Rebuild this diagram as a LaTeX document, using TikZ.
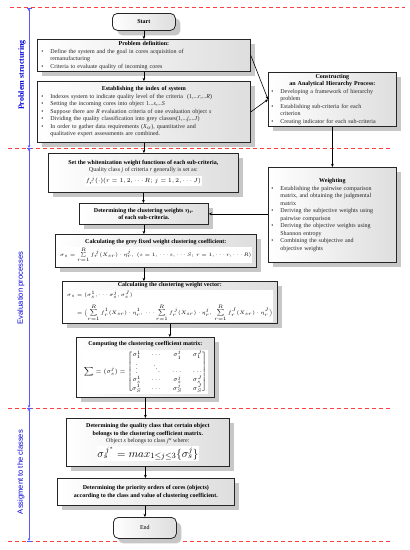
\documentclass[tikz,border=0pt]{standalone}
\usepackage{amsmath}
\usepackage{fontspec}
\setmainfont{Liberation Serif}
\newfontfamily\labsans{Liberation Sans}
\usetikzlibrary{arrows.meta,shadows,calc}
\newcommand\bitem{\par\hangindent=9pt\hangafter=1\noindent\hbox to 9pt{\textbullet\hfil}}
\newcommand\wbox[1]{{\setlength{\fboxsep}{0.8pt}\colorbox{white}{#1}}}
\begin{document}
\begin{tikzpicture}[x=1pt,y=-1pt,
  box/.style={draw=black!85, line width=0.8pt, left color=white, right color=black!13,
    drop shadow={shadow xshift=5pt, shadow yshift=-5pt, fill=black!22, opacity=1},
    inner xsep=4pt, inner ysep=1pt, anchor=north west,
    font=\fontsize{6}{7.5}\selectfont},
  rbox/.style={box, rounded corners=5pt, align=center},
  cbox/.style={box, align=center},
  arr/.style={-{Stealth[length=3.2pt,width=2.8pt]}, line width=0.6pt, black},
  reddash/.style={draw=red!75, line width=0.7pt, dash pattern=on 4pt off 3pt},
  blueax/.style={draw=blue!65, line width=0.6pt},
  bluelab/.style={text=blue!85!black, rotate=90, font=\labsans\fontsize{7.6}{8}\selectfont}
]
\useasboundingbox (0,0) rectangle (410,550);

% section separators
\draw[reddash] (10,7) -- (405,7);
\draw[reddash] (8,148) -- (392,148);
\draw[reddash] (8,408) -- (390,408);
\draw[reddash] (8,541) -- (390,541);

% blue axis
\draw[blueax, {Stealth[length=3pt,width=2.6pt]}-{Stealth[length=3pt,width=2.6pt]}] (29,8) -- (29,148);
\draw[blueax, {Stealth[length=3pt,width=2.6pt]}-{Stealth[length=3pt,width=2.6pt]}] (29,148) -- (29,408);
\draw[blueax, {Stealth[length=3pt,width=2.6pt]}-{Stealth[length=3pt,width=2.6pt]}] (29,408) -- (29,541);
\foreach \yy in {8,148,408,541} \draw[blueax] (26.5,\yy) -- (31.5,\yy);
\node[bluelab, font=\bfseries\fontsize{8}{8}\selectfont] (lab1) at (22,75) {Problem structuring};
\node[bluelab] (lab2) at (21,288) {Evaluation processes};
\node[bluelab] (lab3) at (21,472) {Assigment to the classes};

% main column
\node[rbox, minimum width=63pt, minimum height=17pt] (start) at (112,13) {\bfseries Start};

\node[box, minimum width=213pt, minimum height=32pt, text width=205pt] (pd) at (37,39)
 {\centering\bfseries Problem definition:\par\mdseries\raggedright\color{black!85}
  \bitem Define the system and the goal in cores acquisition of\newline remanufacturing
  \bitem Criteria to evaluate quality of incoming cores\par};

\node[box, minimum width=213pt, minimum height=61pt, text width=205pt] (ei) at (37,81)
 {\centering\bfseries Establishing the index of system\par\mdseries\raggedright\color{black!85}
  \bitem Indexes system to indicate quality level of the criteria~ (1,...\textit{r},...\textit{R})
  \bitem Setting the incoming cores into object 1...\textit{s},...\textit{S}
  \bitem Suppose there are \textit{R} evaluation criteria of one evaluation object \textit{s}
  \bitem Dividing the quality classification into grey classes(1,...\textit{j},...\textit{J})
  \bitem In order to gather data requirements (\textit{X}\textsubscript{\textit{sr}}), quantitative and\newline qualitative expert assessments are combined.\par};

\node[box, minimum width=128pt, minimum height=54pt, text width=122pt, inner xsep=3pt] (ahp) at (268,72)
 {\centering\bfseries Constructing\\ an Analytical Hierarchy Process:\par\mdseries\raggedright\color{black!85}
  \bitem Developing a framework of hierarchy\newline problem
  \bitem Establishing sub-criteria for each\newline criterion
  \bitem Creating indicator for each sub-criteria\par};

\node[box, minimum width=128pt, minimum height=95pt, text width=122pt, inner xsep=3pt] (wt) at (268,167)
 {\centering\bfseries Weighting\par\mdseries\raggedright\color{black!85}
  \bitem Establishing the pairwise comparison\newline matrix, and obtaining the judgmental\newline matrix
  \bitem Deriving the subjective weights using\newline pairwise comparison
  \bitem Deriving the objective weights using\newline Shannon entropy
  \bitem Combining the subjective and\newline objective weights\par};

\node[cbox, minimum width=190pt, minimum height=39pt] (set) at (48,153)
 {\bfseries Set the whitenization weight functions of each sub-criteria,\\
  {\color{black!85}Quality class \textit{j} of criteria \textit{r} generally is set as:}\\[2pt]
  \wbox{$f_r^{\,j}(\cdot)(r=1,2,\cdots R;\,j=1,2,\cdots J)$}};

\node[cbox, minimum width=129pt, minimum height=21pt] (detw) at (79,203)
 {\bfseries Determining the clustering weights $\boldsymbol{\eta_r}$\\ \bfseries of each sub-criteria.};

\node[cbox, minimum width=183pt, minimum height=33pt] (calc) at (55,234)
 {\bfseries Calculating the grey fixed weight clustering coefficient:\\[1pt]
  \wbox{\fontsize{4.6}{5}\selectfont$\sigma_s=\sum\limits_{r=1}^{R} f_r^{\,j}(X_{sr})\cdot\eta_r^j,\;(s=1,\cdots s,\cdots S;\,r=1,\cdots r,\cdots R)$}};

\node[cbox, minimum width=165pt, minimum height=42pt] (vec) at (62,281)
 {\bfseries Calculating the clustering weight vector:\\[1pt]
  \wbox{\fontsize{4.6}{5.5}\selectfont$\begin{aligned}
   \sigma_s&=(\sigma_s^1,\cdots\sigma_s^j,\sigma_s^J)\\[1.5pt]
   &=\Bigl(\sum\limits_{r=1}^{R} f_r^{1}(X_{sr})\cdot\eta_r^1,\,\cdots\sum\limits_{r=1}^{R} f_r^{\,j}(X_{sr})\cdot\eta_r^j,\,\sum\limits_{r=1}^{R} f_r^{J}(X_{sr})\cdot\eta_r^J\Bigr)
  \end{aligned}$}};

\node[cbox, minimum width=138pt, minimum height=60pt] (mat) at (76,337)
 {\bfseries Computing the clustering coefficient matrix:\\[2pt]
  \wbox{\fontsize{6}{7}\selectfont$\displaystyle\sum=(\sigma_s^j)=\begin{bmatrix}
   \sigma_1^1&\cdots&\sigma_1^j&\sigma_1^J\\
   \vdots&\ddots&\cdots&\cdots\\
   \sigma_s^1&\cdots&\sigma_s^j&\sigma_s^J\\
   \sigma_S^1&\cdots&\sigma_S^j&\sigma_S^J\end{bmatrix}$}};

\node[cbox, minimum width=163pt, minimum height=48pt] (qual) at (66,418)
 {\bfseries Determining the quality class that certain object\\ \bfseries belongs to the clustering coefficient matrix.\\
  {\color{black!85}Object \textit{s} belongs to class \textit{j}* where:}\\[1pt]
  \wbox{\fontsize{11}{12}\selectfont$\sigma_s^{\,j^*}=max_{1\le j\le 3}\{\sigma_s^j\}$}};

\node[cbox, minimum width=177pt, minimum height=27pt] (prio) at (57,478)
 {\bfseries Determining the priority orders of cores (objects)\\ \bfseries according to the class and value of clustering coefficient.};

\node[rbox, minimum width=63pt, minimum height=21pt] (end) at (113,517) {End};

% connectors
\draw[arr] (start.south) -- (start.south |- pd.north);
\draw[arr] (pd.south) -- (pd.south |- ei.north);
\draw[arr] (ei.south) -- (ei.south |- set.north);
\draw[arr] (set.south) -- (set.south |- detw.north);
\draw[arr] (detw.south) -- (detw.south |- calc.north);
\draw[arr] (detw.south |- calc.south) -- (detw.south |- vec.north);
\draw[arr] (vec.south) -- (vec.south |- mat.north);
\draw[arr] (mat.south) -- (mat.south |- qual.north);
\draw[arr] (mat.south |- qual.south) -- (mat.south |- prio.north);
\draw[arr] (prio.south -| end.north) -- (end.north);
\draw[arr] (pd.east) -- (ahp.west);
\draw[arr] (ei.east) -- (ahp.west);
\draw[arr] (ahp.south) -- (ahp.south |- wt.north);
\draw[arr] (wt.west |- detw.east) -- (detw.east);
\end{tikzpicture}
\end{document}
